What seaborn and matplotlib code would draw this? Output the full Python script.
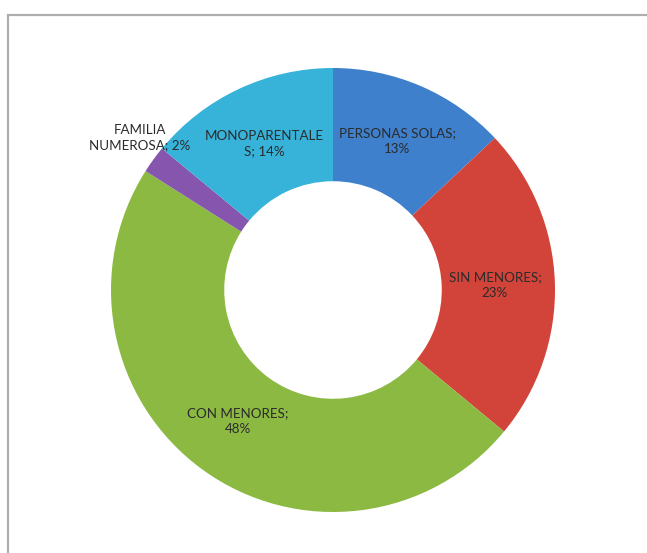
import numpy as np
import matplotlib
matplotlib.use("Agg")
import matplotlib.pyplot as plt
from matplotlib.patches import Rectangle
import seaborn as sns

categories = ["PERSONAS SOLAS", "SIN MENORES", "CON MENORES", "FAMILIA NUMEROSA", "MONOPARENTALES"]
values = [13, 23, 48, 2, 14]
labels = ["PERSONAS SOLAS;\n13%", "SIN MENORES;\n23%", "CON MENORES;\n48%",
          "FAMILIA\nNUMEROSA; 2%", "MONOPARENTALE\nS; 14%"]
colors = ["#3E80CC", "#D2443A", "#8CB942", "#8656AE", "#37B2D8"]

sns.set_theme(style="white")
plt.rcParams['font.family'] = ['Lato', 'DejaVu Sans']
palette = sns.color_palette(colors)

W, H = 647, 553
fig = plt.figure(figsize=(W / 100, H / 100), dpi=100)
fig.patch.set_facecolor("white")

# frame
fig.add_artist(Rectangle((8 / W, -0.1), 1.2, (H - 15) / H + 0.1, transform=fig.transFigure,
                         fill=False, edgecolor="#AEAEAE", lw=1.6))

cx, cy, R = 333, 290, 222
ax = fig.add_axes([(cx - R) / W, (H - cy - R) / H, 2 * R / W, 2 * R / H])
wedges, _ = ax.pie(values, colors=palette, startangle=90, counterclock=False,
                   radius=1.0, wedgeprops=dict(width=0.51, linewidth=0))
ax.set_xlim(-1, 1)
ax.set_ylim(-1, 1)
ax.set_aspect("equal")
ax.axis("off")

total = float(sum(values))
cum = 0.0
for v, lab in zip(values, labels):
    mid = (cum + v / 2) / total
    cum += v
    ang = np.deg2rad(90 - 360 * mid)
    small = v / total < 0.05
    r = 1.1 if small else 0.73
    x, y = r * np.cos(ang), r * np.sin(ang)
    if small:
        x += 0.02
        y += 0.04
    ax.text(x, y, lab, ha="center", va="center", fontsize=9.6, color="#2B2B2B",
            linespacing=1.35, clip_on=False)

fig.savefig("out.png", dpi=100, facecolor="white")
